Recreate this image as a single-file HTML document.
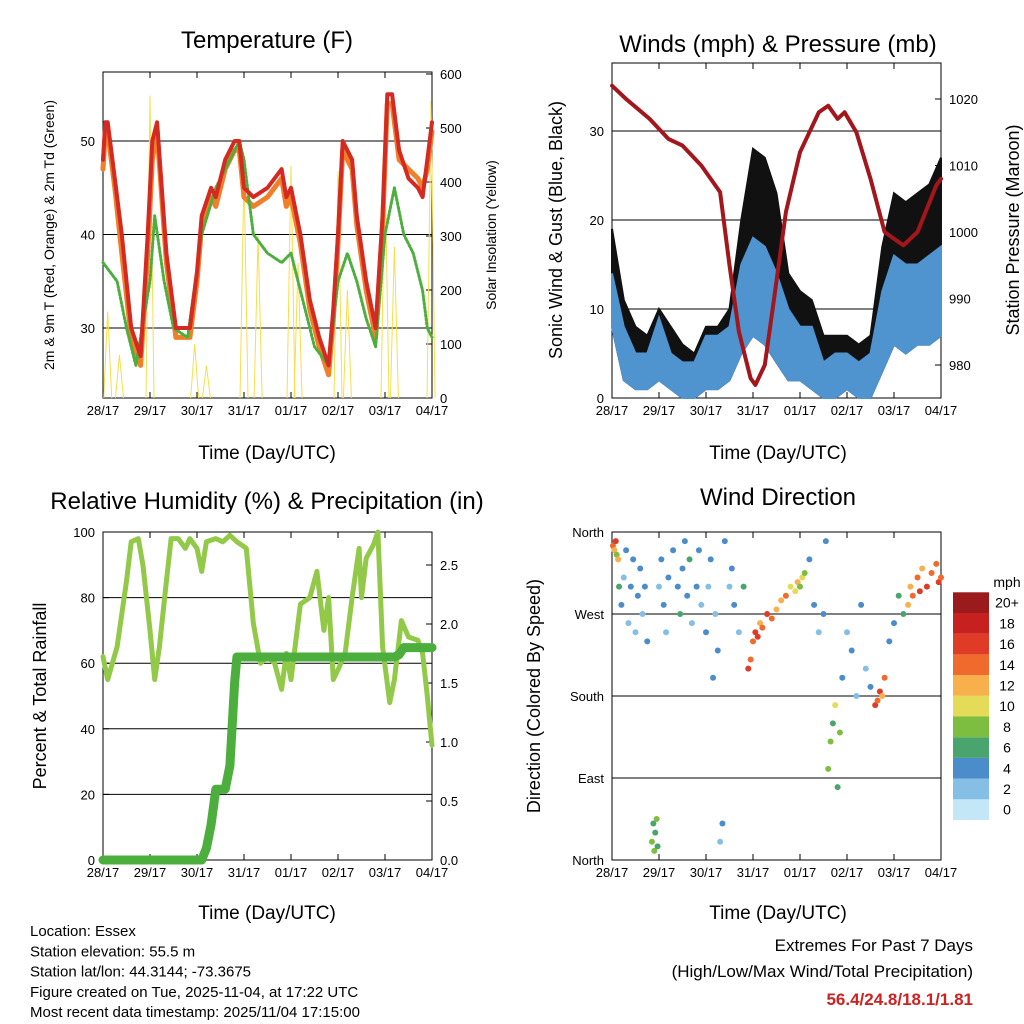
<!DOCTYPE html>
<html><head><meta charset="utf-8"><style>
body{margin:0;background:#fff;}
svg{display:block;font-family:"Liberation Sans",sans-serif;}
</style></head><body>
<svg id="c" width="1024" height="1024" viewBox="0 0 1024 1024"></svg>
<script>
// ---------- DATA ----------
const dayLabels=["28/17","29/17","30/17","31/17","01/17","02/17","03/17","04/17"];
const tempT=[0,0.05,0.1,0.25,0.4,0.6,0.8,0.95,1.05,1.15,1.35,1.55,1.85,2.0,2.1,2.3,2.4,2.6,2.8,2.9,3.0,3.2,3.5,3.8,3.9,4.0,4.2,4.4,4.6,4.8,4.9,5.0,5.1,5.3,5.4,5.6,5.8,5.95,6.05,6.15,6.3,6.5,6.7,6.8,6.9,7.0];
const tempRed=[48,52,52,46,40,30,27,40,50,52,38,30,30,36,42,45,44,48,50,50,45,44,45,47,44,45,40,33,29,26,32,40,50,48,42,35,30,42,55,55,49,46,45,44,48,52];
const tempOrange=[47,51,51,45,38,29,26,38,48,51,37,29,29,35,41,44,43,47,49,49,44,43,44,46,43,44,39,32,28,25,31,39,49,47,41,34,29,41,54,54,48,47,46,45,47,51];
const dewT=[0,0.3,0.5,0.7,1.0,1.1,1.3,1.5,1.8,2.1,2.4,2.7,2.9,3.0,3.2,3.5,3.8,4.0,4.3,4.5,4.8,5.0,5.2,5.4,5.6,5.8,6.0,6.2,6.4,6.6,6.8,6.9,7.0];
const dewVal=[37,35,30,26,35,42,35,30,29,40,45,48,50,48,40,38,37,38,32,28,26,35,38,35,31,28,40,45,40,38,34,30,29];
const solarT=[0.1,0.35,1.0,1.95,2.2,3.0,3.3,4.0,4.15,5.0,5.2,6.0,6.2,6.98];
const solarPeak=[160,80,560,100,60,420,300,430,250,420,200,430,280,550];
const windT=[0,0.25,0.5,0.75,1.0,1.25,1.5,1.75,2.0,2.25,2.5,2.75,3.0,3.25,3.5,3.75,4.0,4.25,4.5,4.75,5.0,5.25,5.5,5.75,6.0,6.25,6.5,6.75,7.0];
const windLo=[8,2,1,1,2,1,0,0,1,1,2,5,7,6,4,2,2,1,0,0,1,0,0,3,6,5,6,6,7];
const windHi=[14,8,5,5,9,5,4,4,7,7,8,15,18,17,14,10,8,8,4,5,5,4,5,12,16,15,15,16,17];
const gustHi=[19,11,8,7,10,8,6,5,8,8,10,20,28,27,23,14,12,11,7,7,7,6,7,17,23,22,23,24,27];
const presT=[0,0.3,0.8,1.2,1.5,1.9,2.3,2.5,2.7,2.95,3.05,3.25,3.45,3.7,4.0,4.4,4.6,4.8,4.95,5.2,5.5,5.8,6.0,6.2,6.5,6.9,7.0];
const presVal=[1022,1020,1017,1014,1013,1010,1006,995,985,978,977,980,990,1003,1012,1018,1019,1017,1018,1015,1008,1000,999,998,1000,1007,1008];
const rhT=[0,0.1,0.3,0.5,0.6,0.75,0.85,1.0,1.1,1.2,1.35,1.45,1.6,1.75,1.85,2.0,2.1,2.2,2.4,2.55,2.7,2.85,2.95,3.05,3.2,3.35,3.5,3.65,3.8,3.9,4.0,4.2,4.4,4.55,4.7,4.8,4.9,5.0,5.15,5.3,5.45,5.5,5.6,5.75,5.85,5.95,6.1,6.2,6.35,6.5,6.7,6.8,6.9,7.0];
const rhVal=[62,55,65,85,97,98,90,70,55,65,85,98,98,95,98,95,88,97,98,97,99,97,96,95,72,60,62,60,52,63,55,78,80,88,70,80,55,58,63,80,95,80,92,96,100,65,48,55,73,68,67,63,50,35];
const rainT=[0,2.1,2.2,2.3,2.4,2.6,2.7,2.8,2.85,6.2,6.3,6.4,7.0];
const rainVal=[0,0,0.1,0.3,0.6,0.6,0.8,1.5,1.72,1.72,1.74,1.8,1.8];
const dirT=[0.02,0.05,0.08,0.1,0.13,0.15,0.2,0.25,0.3,0.35,0.4,0.45,0.5,0.55,0.6,0.65,0.7,0.75,0.85,0.88,0.9,0.92,0.95,0.97,1.0,1.05,1.1,1.15,1.2,1.3,1.4,1.45,1.5,1.55,1.6,1.65,1.7,1.8,1.85,1.9,2.0,2.05,2.1,2.15,2.2,2.25,2.3,2.35,2.4,2.5,2.55,2.6,2.7,2.8,2.9,2.95,3.0,3.05,3.1,3.15,3.2,3.3,3.4,3.5,3.6,3.7,3.8,3.9,3.95,4.0,4.05,4.1,4.2,4.3,4.4,4.5,4.55,4.6,4.65,4.7,4.75,4.8,4.85,4.9,5.0,5.1,5.2,5.3,5.4,5.5,5.6,5.65,5.7,5.75,5.8,5.9,6.0,6.1,6.2,6.3,6.35,6.4,6.5,6.55,6.6,6.7,6.8,6.9,6.95,7.0];
const dirDeg=[345,340,350,335,330,300,280,310,340,260,300,330,250,290,320,270,300,240,20,40,10,30,45,15,300,330,280,250,310,340,300,270,320,350,290,330,260,300,340,280,250,300,330,200,270,230,20,40,350,300,320,280,250,300,210,220,240,250,245,260,255,270,265,275,285,290,300,295,305,300,310,315,330,280,250,270,350,100,130,150,170,80,140,200,250,230,180,280,210,190,170,175,185,180,200,240,260,290,270,280,300,290,310,295,320,300,315,325,305,310];
const dirSpd=[14,12,15,8,11,6,3,2,3,2,4,3,2,3,3,2,4,3,7,6,8,5,7,6,2,3,4,2,3,3,4,5,3,4,3,5,2,4,3,2,3,2,4,3,2,3,2,3,3,2,4,3,2,5,15,14,13,16,15,12,14,16,13,11,12,14,10,9,12,8,10,7,4,3,2,3,4,7,8,6,9,5,7,3,2,3,2,4,2,3,15,14,16,12,13,3,4,5,6,11,12,13,14,15,12,16,13,14,15,13];
const cbarLabels=["0","2","4","6","8","10","12","14","16","18","20+"];
const cbarColors=["#c4e7f8","#86bfe6","#4b8dca","#4aa46d","#7dbd3f","#e4dc58","#f7b04b","#f06a2d","#e03b27","#c6201f","#9b1a1b"];

// ---------- HELPERS ----------
const NS="http://www.w3.org/2000/svg";
const svg=document.getElementById('c');
function mk(tag,attrs,parent){const e=document.createElementNS(NS,tag);for(const k in attrs)e.setAttribute(k,attrs[k]);(parent||svg).appendChild(e);return e;}
function txt(s,x,y,size,anchor,rot,extra){const e=mk('text',Object.assign({x:x,y:y,'font-size':size,'text-anchor':anchor||'middle',fill:'#000'},extra||{}));if(rot)e.setAttribute('transform','rotate(-90 '+x+' '+y+')');e.textContent=s;return e;}
function lin(d0,d1,r0,r1){return v=>r0+(v-d0)/(d1-d0)*(r1-r0);}
function pts(xs,ys,fx,fy){return xs.map((t,i)=>fx(t).toFixed(1)+','+fy(ys[i]).toFixed(1)).join(' ');}

function panel(name,x0,y0,x1,y1){
  const g=mk('g',{});
  
  
  return {g,x0,y0,x1,y1,fx:lin(0,7,x0,x1)};
}
function frame(p,leftTicks,fyL,rightTicks,fyR,grid){
  const g=p.g;
  if(grid) grid.forEach(v=>{const l=mk('line',{x1:p.x0,x2:p.x1,y1:fyL(v),y2:fyL(v),stroke:'#000','stroke-width':1},g);});
  const r=mk('rect',{x:p.x0,y:p.y0,width:p.x1-p.x0,height:p.y1-p.y0,fill:'none',stroke:'#000','stroke-width':1},g);
  
  dayLabels.forEach((d,i)=>{const x=p.fx(i);
    mk('line',{x1:x,x2:x,y1:p.y1,y2:p.y1-6,stroke:'#000'},g);
    mk('line',{x1:x,x2:x,y1:p.y0,y2:p.y0+6,stroke:'#000'},g);
    const t=txt(d,x,p.y1+17,13,'middle');});
  leftTicks.forEach(v=>{const y=fyL(v[0]);mk('line',{x1:p.x0,x2:p.x0+6,y1:y,y2:y,stroke:'#000'},g);
    const t=txt(v[1],p.x0-8,y+5,13,'end');});
  rightTicks.forEach(v=>{const y=fyR(v[0]);mk('line',{x1:p.x1,x2:p.x1-6,y1:y,y2:y,stroke:'#000'},g);
    const t=txt(v[1],p.x1+8,y+5,13,'start');});
}
function line(p,xs,ys,fy,color,w,name){const l=mk('polyline',{points:pts(xs,ys,p.fx,fy),fill:'none',stroke:color,'stroke-width':w,'stroke-linejoin':'round','stroke-linecap':'round'},p.g);return l;}
function band(p,xs,lo,hi,fy,color,name){const d=pts(xs,hi,p.fx,fy)+' '+pts(xs.slice().reverse(),lo.slice().reverse(),p.fx,fy);const e=mk('polygon',{points:d,fill:color,stroke:color,'stroke-width':2},p.g);}

// ---------- PANEL 1: Temperature ----------
{
const p=panel('temperature-panel',103,72,432,398);
const fy=lin(30,50,328,141), fyR=lin(0,600,398,74);
frame(p,[[30,'30'],[40,'40'],[50,'50']],fy,[[0,'0'],[100,'100'],[200,'200'],[300,'300'],[400,'400'],[500,'500'],[600,'600']],fyR,[30,40,50]);
solarT.forEach((t,i)=>{const x=p.fx(t);const e=mk('polyline',{points:(x-4)+','+fyR(0)+' '+x+','+fyR(solarPeak[i])+' '+(x+4)+','+fyR(0),fill:'none',stroke:'#f7de4a','stroke-width':1},p.g);});
line(p,tempT,tempOrange,fy,'#f07f2a',5,'temp-9m-line');
line(p,dewT,dewVal,fy,'#4cae3c',3,'dewpoint-line').setAttribute('stroke-dasharray','2 2');
line(p,tempT,tempRed,fy,'#d42a22',4,'temp-2m-line');
let t=txt('Temperature (F)',267,48,24);
t=txt('Time (Day/UTC)',267,459,19);
t=txt('2m & 9m T (Red, Orange) & 2m Td (Green)',54,235,14,'middle',true);
t=txt('Solar Insolation (Yellow)',496,235,14,'middle',true);
}
// ---------- PANEL 2: Winds ----------
{
const p=panel('winds-panel',612,63,941,398);
const fy=lin(0,30,398,131), fyR=lin(980,1020,365,99);
frame(p,[[0,'0'],[10,'10'],[20,'20'],[30,'30']],fy,[[980,'980'],[990,'990'],[1000,'1000'],[1010,'1010'],[1020,'1020']],fyR,[10,20,30]);
band(p,windT,windLo,gustHi,fy,'#111','gust-band');
band(p,windT,windLo,windHi,fy,'#4f93cf','wind-band');
line(p,presT,presVal,fyR,'#a3161c',4,'pressure-line');
let t=txt('Winds (mph) & Pressure (mb)',778,52,24);
t=txt('Time (Day/UTC)',778,459,19);
t=txt('Sonic Wind & Gust (Blue, Black)',562,230,18,'middle',true);
t=txt('Station Pressure (Maroon)',1019,230,18,'middle',true);
}
// ---------- PANEL 3: RH ----------
{
const p=panel('humidity-panel',103,532,432,860);
const fy=lin(0,100,860,532), fyR=lin(0,2.5,860,565);
frame(p,[[0,'0'],[20,'20'],[40,'40'],[60,'60'],[80,'80'],[100,'100']],fy,[[0,'0.0'],[0.5,'0.5'],[1,'1.0'],[1.5,'1.5'],[2,'2.0'],[2.5,'2.5']],fyR,[20,40,60,80]);
line(p,rhT,rhVal,fy,'#93c948',5,'humidity-line');
line(p,rainT,rainVal,fyR,'#4cae3c',9,'rainfall-line');
let t=txt('Relative Humidity (%) & Precipitation (in)',267,509,24);
t=txt('Time (Day/UTC)',267,919,19);
t=txt('Percent & Total Rainfall',46,696,18,'middle',true);
}
// ---------- PANEL 4: Wind direction ----------
{
const p=panel('wind-direction-panel',612,532,941,860);
const fy=lin(0,360,860,532);
frame(p,[[0,'North'],[90,'East'],[180,'South'],[270,'West'],[360,'North']],fy,[],fy,[90,180,270]);
dirT.forEach((tt,i)=>{const ci=Math.min(10,Math.round(dirSpd[i]/2));const c=mk('circle',{cx:p.fx(tt),cy:fy(dirDeg[i]),r:3,fill:cbarColors[ci]},p.g);

});
let t=txt('Wind Direction',778,505,24);
t=txt('Time (Day/UTC)',778,919,19);
t=txt('Direction (Colored By Speed)',540,696,18,'middle',true);
const cb=mk('g',{});
const bh=20.7;
cbarColors.forEach((c,i)=>{const y=820-(i+1)*bh;mk('rect',{x:953,y:y,width:36,height:bh,fill:c},cb);
const l=txt(cbarLabels[i],1007,y+bh/2+5,14,'middle');cb.appendChild(l);});
const m=txt('mph',1007,587,14,'middle');
}
// ---------- FOOTER ----------
const info=["Location: Essex","Station elevation: 55.5 m","Station lat/lon: 44.3144; -73.3675","Figure created on Tue, 2025-11-04, at 17:22 UTC","Most recent data timestamp: 2025/11/04 17:15:00"];
info.forEach((s,i)=>{const t=txt(s,30,936+i*20.3,15,'start');});
let e=txt('Extremes For Past 7 Days',973,951,17,'end');
e=txt('(High/Low/Max Wind/Total Precipitation)',973,977,17,'end');
e=txt('56.4/24.8/18.1/1.81',973,1005,17,'end',false,{fill:'#cc2222','font-weight':'bold'});
</script>
</body></html>
